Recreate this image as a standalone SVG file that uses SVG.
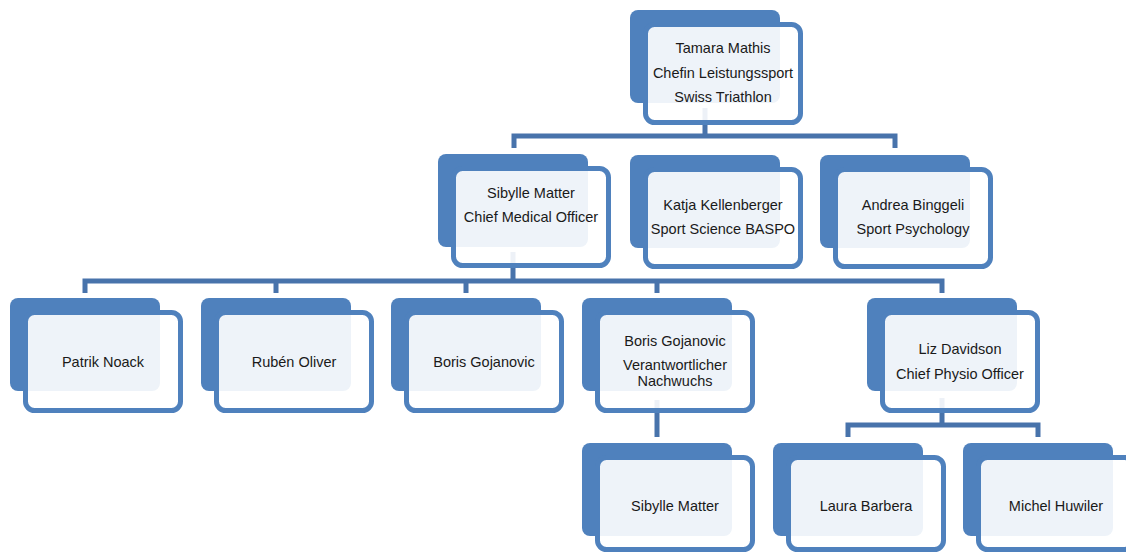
<svg xmlns="http://www.w3.org/2000/svg" width="1126" height="553" viewBox="0 0 1126 553">
<style>
.back{fill:#4f81bd}
.front{fill:#ffffff;fill-opacity:0.9;stroke:#4f81bd;stroke-width:5}
.conn{fill:none;stroke:#4873ab;stroke-width:5}
text{font-family:"Liberation Sans",Arial,sans-serif;font-size:14.5px;fill:#1a1a1a;text-anchor:middle}
</style>
<rect width="1126" height="553" fill="#ffffff"/>
<g id="connectors">
<path class="conn" d="M705,108 V136 M514,148 V136 H895 V148"/>
<path class="conn" d="M513,252 V281 M85,293 V281 H942 V293 M276,281 V293 M466,281 V293 M657,281 V293"/>
<path class="conn" d="M657,400 V437"/>
<path class="conn" d="M942,398 V425 M848,437 V425 H1038 V437"/>
</g>
<g id="n-tamara">
<rect class="back" x="630" y="10" width="150" height="93" rx="8"/>
<rect class="front" x="645.5" y="24.5" width="155" height="98" rx="9"/>
<text x="723" y="53">Tamara Mathis</text>
<text x="723" y="77.5">Chefin Leistungssport</text>
<text x="723" y="102">Swiss Triathlon</text>
</g>
<g id="n-sibylle">
<rect class="back" x="438" y="154" width="150" height="93" rx="8"/>
<rect class="front" x="453.5" y="168.5" width="155" height="97" rx="9"/>
<text x="531" y="197.5">Sibylle Matter</text>
<text x="531" y="222">Chief Medical Officer</text>
</g>
<g id="n-katja">
<rect class="back" x="630" y="155" width="150" height="93" rx="8"/>
<rect class="front" x="645.5" y="169.5" width="155" height="97" rx="9"/>
<text x="723" y="210">Katja Kellenberger</text>
<text x="723" y="234">Sport Science BASPO</text>
</g>
<g id="n-andrea">
<rect class="back" x="820" y="155" width="150" height="93" rx="8"/>
<rect class="front" x="835.5" y="169.5" width="155" height="97" rx="9"/>
<text x="913" y="210">Andrea Binggeli</text>
<text x="913" y="234">Sport Psychology</text>
</g>
<g id="n-patrik">
<rect class="back" x="10" y="298" width="150" height="93" rx="8"/>
<rect class="front" x="25.5" y="312.5" width="155" height="98" rx="9"/>
<text x="103" y="367">Patrik Noack</text>
</g>
<g id="n-ruben">
<rect class="back" x="201" y="298" width="150" height="93" rx="8"/>
<rect class="front" x="216.5" y="312.5" width="155" height="98" rx="9"/>
<text x="294" y="367">Rubén Oliver</text>
</g>
<g id="n-boris1">
<rect class="back" x="391" y="298" width="150" height="93" rx="8"/>
<rect class="front" x="406.5" y="312.5" width="155" height="98" rx="9"/>
<text x="484" y="367">Boris Gojanovic</text>
</g>
<g id="n-boris2">
<rect class="back" x="582" y="298" width="150" height="93" rx="8"/>
<rect class="front" x="597.5" y="312.5" width="155" height="98" rx="9"/>
<text x="675" y="346">Boris Gojanovic</text>
<text x="675" y="370">Verantwortlicher</text>
<text x="675" y="386">Nachwuchs</text>
</g>
<g id="n-liz">
<rect class="back" x="867" y="298" width="150" height="93" rx="8"/>
<rect class="front" x="882.5" y="312.5" width="155" height="98" rx="9"/>
<text x="960" y="354">Liz Davidson</text>
<text x="960" y="379">Chief Physio Officer</text>
</g>
<g id="n-sibylle2">
<rect class="back" x="582" y="443" width="150" height="93" rx="8"/>
<rect class="front" x="597.5" y="457.5" width="155" height="92" rx="9"/>
<text x="675" y="511">Sibylle Matter</text>
</g>
<g id="n-laura">
<rect class="back" x="773" y="443" width="150" height="93" rx="8"/>
<rect class="front" x="788.5" y="457.5" width="155" height="92" rx="9"/>
<text x="866" y="511">Laura Barbera</text>
</g>
<g id="n-michel">
<rect class="back" x="963" y="443" width="150" height="93" rx="8"/>
<rect class="front" x="978.5" y="457.5" width="155" height="92" rx="9"/>
<text x="1056" y="511">Michel Huwiler</text>
</g>
</svg>
